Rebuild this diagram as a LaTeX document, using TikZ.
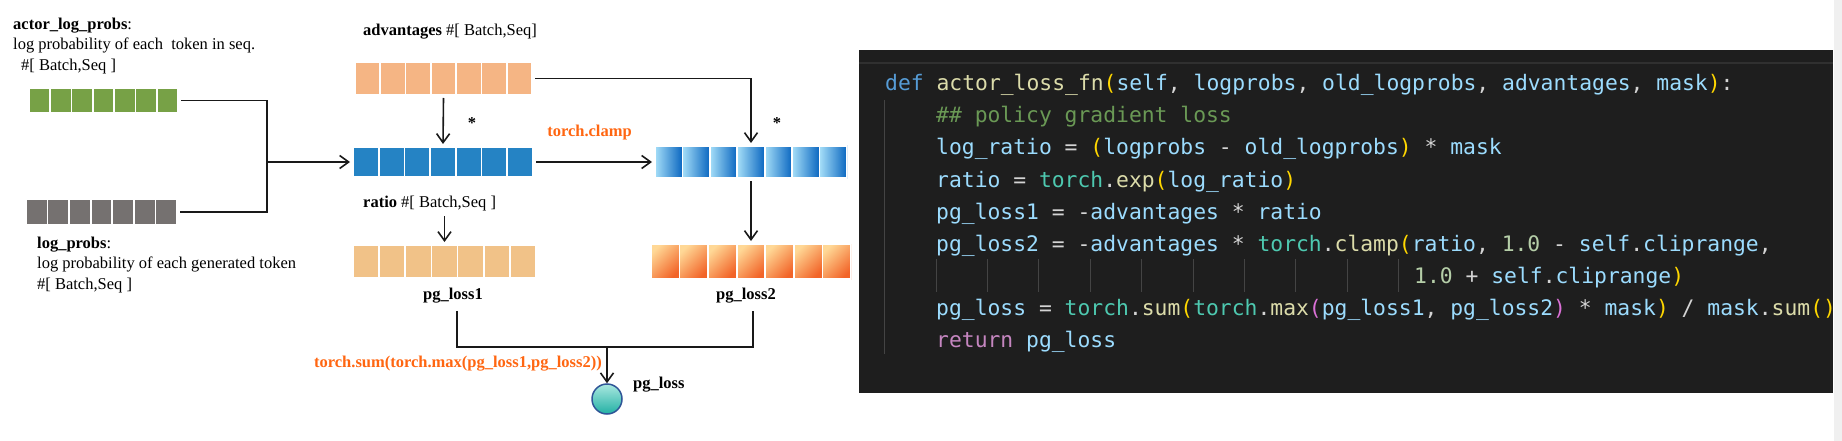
\documentclass[tikz,border=0pt]{standalone}
\usepackage{fontspec}
\setmainfont{Liberation Serif}
\setmonofont{DejaVu Sans Mono}
\usepackage{tikz}
\usetikzlibrary{
  positioning,
  arrows.meta,
  calc
}
\definecolor{actorgreen}{RGB}{119,161,70}
\definecolor{refgray}{RGB}{117,113,112}
\definecolor{advpeach}{RGB}{245,181,132}
\definecolor{ratioblue}{RGB}{37,131,196}
\definecolor{loss1tan}{RGB}{241,194,136}
\definecolor{clipleft}{RGB}{165,222,248}
\definecolor{clipright}{RGB}{10,102,192}
\definecolor{loss2top}{RGB}{255,216,150}
\definecolor{loss2bottom}{RGB}{242,100,40}
\definecolor{balltop}{RGB}{170,232,224}
\definecolor{ballbottom}{RGB}{34,176,164}
\definecolor{ballborder}{RGB}{47,85,151}
\definecolor{torchorange}{RGB}{255,102,17}
\definecolor{codebg}{RGB}{30,30,30}
\definecolor{codeedge}{RGB}{48,48,48}
\definecolor{guidegray}{RGB}{68,68,68}
\definecolor{kwblue}{RGB}{86,156,214}
\definecolor{fnyellow}{RGB}{220,220,170}
\definecolor{varblue}{RGB}{156,220,254}
\definecolor{cmtgreen}{RGB}{106,153,85}
\definecolor{clsteal}{RGB}{78,201,176}
\definecolor{numgreen}{RGB}{181,206,168}
\definecolor{optext}{RGB}{212,212,212}
\definecolor{kwpurple}{RGB}{197,134,192}
\definecolor{bragold}{RGB}{255,215,0}
\definecolor{brapink}{RGB}{218,112,214}
\newcommand\basefont{\fontsize{16.5}{20.5}\selectfont}
\newcommand\codefont{\ttfamily\fontsize{21.35}{32}\selectfont}
\newcommand\ckw[1]{\textcolor{kwblue}{#1}}
\newcommand\cfn[1]{\textcolor{fnyellow}{#1}}
\newcommand\cvar[1]{\textcolor{varblue}{#1}}
\newcommand\ccmt[1]{\textcolor{cmtgreen}{#1}}
\newcommand\ccls[1]{\textcolor{clsteal}{#1}}
\newcommand\cnum[1]{\textcolor{numgreen}{#1}}
\newcommand\cop[1]{\textcolor{optext}{#1}}
\newcommand\cret[1]{\textcolor{kwpurple}{#1}}
\newcommand\cbra[1]{\textcolor{bragold}{#1}}
\newcommand\cbrb[1]{\textcolor{brapink}{#1}}

\begin{document}
\begin{tikzpicture}[
      x=1pt, y=-1pt,
      >={Straight Barb[length=9pt,width=13pt]},
      tokenbar/.style={
        rectangle,
        inner sep=0pt,
        outer sep=3pt,
        path picture={
          % empty path first, so that the first cell gets its own bounding box
          \path (path picture bounding box.center);
          \foreach \k in {0,...,6}
            \path[#1, draw=white, line width=1.8pt]
              ($(path picture bounding box.north west)!{\k/7}!(path picture bounding box.north east)$)
              rectangle
              ($(path picture bounding box.south west)!{(\k+1)/7}!(path picture bounding box.south east)$);
        }
      },
      lbl/.style={
        font=\basefont,
        inner sep=0pt
      },
      oplabel/.style={
        font=\basefont\bfseries,
        text=torchorange,
        inner sep=0pt
      },
      ball/.style={
        circle,
        minimum size=30pt,
        inner sep=0pt,
        draw=ballborder,
        line width=1.5pt,
        top color=balltop,
        bottom color=ballbottom
      },
      link/.style={
        line width=1.6pt,
        black!90
      },
      flow/.style={
        ->,
        line width=1.6pt,
        black!90
      },
      codeline/.style={
        font=\codefont,
        text=optext,
        inner sep=0pt,
        anchor=base west
      },
      guide/.style={
        draw=guidegray,
        line width=1pt
      }
    ]

    \useasboundingbox (0,0) rectangle (1842,441);

    % Inputs
    \node[tokenbar={fill=actorgreen}, minimum width=149, minimum height=25] (actor) at (103.5,100.5) {};
    \node[tokenbar={fill=refgray}, minimum width=151, minimum height=26] (logp) at (101.5,212) {};

    % (base of a multi-line node = its last line)
    \node[lbl, anchor=base west, align=left] (actorlab) at (13,70.5)
      {\textbf{actor\_log\_probs}:\\ log probability of each~ token in seq.\\ \hspace*{8pt}\#[ Batch,Seq ]};
    \node[lbl, anchor=base west, align=left] (logplab) at (37,289)
      {\textbf{log\_probs}:\\ log probability of each generated token\\ \#[ Batch,Seq ]};

    % Ratio and pg_loss1
    \node[tokenbar={fill=advpeach}, minimum width=177, minimum height=33] (adv) at (443.5,78.5) {};
    \node[lbl, anchor=base west] (advlab) at (363,36) {\textbf{advantages} \#[ Batch,Seq]};

    \node[tokenbar={fill=ratioblue}, minimum width=180, minimum height=30] (ratio) at (443,162) {};
    \node[lbl, anchor=base west] (ratiolab) at (363,207.5) {\textbf{ratio} \#[ Batch,Seq ]};

    \node[tokenbar={fill=loss1tan}, minimum width=183, minimum height=33] (loss1) at (444.5,261.5) {};
    \node[lbl, anchor=base] (loss1lab) at (453,299) {\textbf{pg\_loss1}};

    \node[lbl, font=\basefont\bfseries, anchor=base] (mul1) at (472,129) {*};

    % Clamped ratio and pg_loss2
    \node[tokenbar={left color=clipleft, right color=clipright}, minimum width=192, minimum height=32] (clip) at (751,162) {};
    \node[oplabel, anchor=base] (clamplab) at (589.5,137) {torch.clamp};

    \node[tokenbar={top color=loss2top, bottom color=loss2bottom, shading angle=45}, minimum width=200, minimum height=35] (loss2) at (751,261.5) {};
    \node[lbl, anchor=base] (loss2lab) at (746,299) {\textbf{pg\_loss2}};

    \node[lbl, font=\basefont\bfseries, anchor=base] (mul2) at (777,129) {*};

    % Output
    \node[ball] (pgloss) at (607,399) {};
    \node[lbl, anchor=base west] (pglosslab) at (633,388) {\textbf{pg\_loss}};
    \node[oplabel, anchor=base east] (sumlab) at (602,367) {torch.sum(torch.max(pg\_loss1,pg\_loss2))};

    % Routing
    \coordinate (join) at (267,162);
    \draw[link] (actor.east) -| (join);
    \draw[link] (logp.east) -| (join);
    \draw[flow] (join) -- (ratio.west);

    \draw[flow] (adv.south) -- (ratio.north);
    \draw[flow] (adv.east) -| (clip.north);
    \draw[flow] (ratio.east) -- (clip.west);
    \draw[flow, shorten <=5pt] (ratiolab.south -| loss1.north) -- (loss1.north);
    \draw[flow] (clip.south) -- (loss2.north);

    \coordinate (merge) at (607,347);
    \draw[link] ([shift={(4,8)}]loss1lab.south) |- (merge) -| ([shift={(7,8)}]loss2lab.south);
    \draw[flow] (merge) -- (pgloss.north);

    % Code panel
    \fill[codebg] (859,50) rectangle (1833,393);
    \draw[codeedge, line width=2pt] (859,63) -- (1833,63);
    \fill[gray!12] (1834,0) rectangle (1842,441);
    \draw[guide] (884,100) -- (884,354);
    \foreach \k in {0,...,9}
      \draw[guide] (936+51.4*\k,259) -- ++(0,33);

    \node[codeline] (code1) at (885,91)
      {\ckw{def} \cfn{actor\_loss\_fn}\cbra{(}\cvar{self}\cop{,} \cvar{logprobs}\cop{,} \cvar{old\_logprobs}\cop{,} \cvar{advantages}\cop{,} \cvar{mask}\cbra{)}\cop{:}};
    \node[codeline] (code2) at (936,123) {\ccmt{\#\# policy gradient loss}};
    \node[codeline] (code3) at (936,155)
      {\cvar{log\_ratio} \cop{=} \cbra{(}\cvar{logprobs} \cop{-} \cvar{old\_logprobs}\cbra{)} \cop{*} \cvar{mask}};
    \node[codeline] (code4) at (936,187)
      {\cvar{ratio} \cop{=} \ccls{torch}\cop{.}\cfn{exp}\cbra{(}\cvar{log\_ratio}\cbra{)}};
    \node[codeline] (code5) at (936,219)
      {\cvar{pg\_loss1} \cop{=} \cop{-}\cvar{advantages} \cop{*} \cvar{ratio}};
    \node[codeline] (code6) at (936,251)
      {\cvar{pg\_loss2} \cop{=} \cop{-}\cvar{advantages} \cop{*} \ccls{torch}\cop{.}\cfn{clamp}\cbra{(}\cvar{ratio}\cop{,} \cnum{1.0} \cop{-} \cvar{self}\cop{.}\cvar{cliprange}\cop{,}};
    \node[codeline] (code7) at (1414,283)
      {\cnum{1.0} \cop{+} \cvar{self}\cop{.}\cvar{cliprange}\cbra{)}};
    \node[codeline] (code8) at (936,315)
      {\cvar{pg\_loss} \cop{=} \ccls{torch}\cop{.}\cfn{sum}\cbra{(}\ccls{torch}\cop{.}\cfn{max}\cbrb{(}\cvar{pg\_loss1}\cop{,} \cvar{pg\_loss2}\cbrb{)} \cop{*} \cvar{mask}\cbra{)} \cop{/} \cvar{mask}\cop{.}\cfn{sum}\cbra{()}};
    \node[codeline] (code9) at (936,347) {\cret{return} \cvar{pg\_loss}};

\end{tikzpicture}
\end{document}
